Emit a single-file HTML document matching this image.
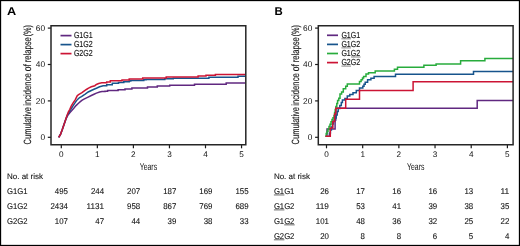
<!DOCTYPE html>
<html><head><meta charset="utf-8"><style>
html,body{margin:0;padding:0;background:#fff;width:520px;height:246px;overflow:hidden}
svg text{font-family:"Liberation Sans", sans-serif;text-rendering:geometricPrecision}
svg{will-change:transform}
text.t{stroke:#111;stroke-width:0.1px}
text.t2{stroke:none}
text.t3{stroke:#222;stroke-width:0.15px}
</style></head><body>
<svg width="520" height="246" viewBox="0 0 520 246" style="display:block;font-family:'Liberation Sans', sans-serif">
<rect x="0" y="0" width="520" height="246" fill="#fff"/>
<rect x="0.5" y="0.5" width="519" height="245" fill="none" stroke="#000" stroke-width="1.3"/>
<text x="6.9" y="14.75" font-size="11.4" textLength="9.2" lengthAdjust="spacingAndGlyphs" font-weight="bold" fill="#000">A</text>
<text x="274.4" y="14.9" font-size="11.4" font-weight="bold" fill="#000">B</text>
<text transform="translate(31.2,144.4) rotate(-90)" x="0" y="0" font-size="10.5" textLength="37.4" lengthAdjust="spacingAndGlyphs" fill="#1a1a1a" class="t3">Cumulative</text>
<text transform="translate(31.2,105.8) rotate(-90)" x="0" y="0" font-size="10.5" textLength="32.6" lengthAdjust="spacingAndGlyphs" fill="#1a1a1a" class="t3">incidence</text>
<text transform="translate(31.2,71.3) rotate(-90)" x="0" y="0" font-size="10.5" textLength="7.1" lengthAdjust="spacingAndGlyphs" fill="#1a1a1a" class="t3">of</text>
<text transform="translate(31.2,62.3) rotate(-90)" x="0" y="0" font-size="10.5" textLength="25.0" lengthAdjust="spacingAndGlyphs" fill="#1a1a1a" class="t3">relapse</text>
<text transform="translate(31.2,36.5) rotate(-90)" x="0" y="0" font-size="10.5" textLength="11.4" lengthAdjust="spacingAndGlyphs" fill="#1a1a1a" class="t3">(%)</text>
<line x1="47.8" y1="137.3" x2="51.0" y2="137.3" stroke="#1a1a1a" stroke-width="1.2"/>
<text class="t2" x="45.0" y="140.20000000000002" font-size="8.3" text-anchor="end" fill="#111">0</text>
<line x1="47.8" y1="100.9" x2="51.0" y2="100.9" stroke="#1a1a1a" stroke-width="1.2"/>
<text class="t2" x="45.0" y="103.80000000000001" font-size="8.3" text-anchor="end" fill="#111">20</text>
<line x1="47.8" y1="64.50000000000001" x2="51.0" y2="64.50000000000001" stroke="#1a1a1a" stroke-width="1.2"/>
<text class="t2" x="45.0" y="67.40000000000002" font-size="8.3" text-anchor="end" fill="#111">40</text>
<line x1="47.8" y1="28.10000000000001" x2="51.0" y2="28.10000000000001" stroke="#1a1a1a" stroke-width="1.2"/>
<text class="t2" x="45.0" y="31.000000000000007" font-size="8.3" text-anchor="end" fill="#111">60</text>
<line x1="61.3" y1="144.8" x2="61.3" y2="148.3" stroke="#1a1a1a" stroke-width="1.2"/>
<text class="t2" x="61.3" y="157.2" font-size="8.2" text-anchor="middle" fill="#111">0</text>
<line x1="97.35" y1="144.8" x2="97.35" y2="148.3" stroke="#1a1a1a" stroke-width="1.2"/>
<text class="t2" x="97.35" y="157.2" font-size="8.2" text-anchor="middle" fill="#111">1</text>
<line x1="133.39999999999998" y1="144.8" x2="133.39999999999998" y2="148.3" stroke="#1a1a1a" stroke-width="1.2"/>
<text class="t2" x="133.39999999999998" y="157.2" font-size="8.2" text-anchor="middle" fill="#111">2</text>
<line x1="169.45" y1="144.8" x2="169.45" y2="148.3" stroke="#1a1a1a" stroke-width="1.2"/>
<text class="t2" x="169.45" y="157.2" font-size="8.2" text-anchor="middle" fill="#111">3</text>
<line x1="205.5" y1="144.8" x2="205.5" y2="148.3" stroke="#1a1a1a" stroke-width="1.2"/>
<text class="t2" x="205.5" y="157.2" font-size="8.2" text-anchor="middle" fill="#111">4</text>
<line x1="241.55" y1="144.8" x2="241.55" y2="148.3" stroke="#1a1a1a" stroke-width="1.2"/>
<text class="t2" x="241.55" y="157.2" font-size="8.2" text-anchor="middle" fill="#111">5</text>
<text class="t2" x="148.4" y="170.2" font-size="10.0" text-anchor="middle" textLength="17.4" lengthAdjust="spacingAndGlyphs" fill="#111">Years</text>
<path d="M58.7,137.4 L60.5,134.4 L62.3,129.5 L63.5,125.9 L64.8,122.2 L66.1,118.7 L67.8,115.3 L69.8,112.7 L71.8,110.6 L73.8,108.3 L76,105.6 L78.5,103.2 L80.3,101.6 L82.2,100.2 L84,99.1 L87.6,97.3 L91.3,95.5 L94,94.2 L96.4,93.1 L99.6,92.1 L102,91.6 H105 V91.2 H107.6 V90.6 H118.1 V89.8 H125 V88.9 H131.9 V87.9 H147.5 V86.9 H157.3 V86.1 H169.7 V85.3 H194.5 V84.2 H226.2 V82.9 H245" fill="none" stroke="#602880" stroke-width="1.5" stroke-linejoin="miter"/>
<path d="M58.7,137.4 L60.5,134.4 L62.3,129.5 L63.5,125.9 L64.8,122.2 L66,118.5 L67.4,115 L69,112.2 L70.7,109.6 L72.5,106.7 L74.3,103.8 L76.5,100.6 L78.5,98.5 L80,97.4 L81.5,96.6 L83.3,95.3 L85.2,94.1 L88.2,92 L91.3,90.5 L94,89.3 L96.4,88.3 L99.6,86.8 L103.2,85.7 H106.7 V84.7 H112.3 V83.3 H118.5 V82.5 H123.8 V81.8 H129.2 V81.0 H130.8 V80.5 H143.8 V79.8 H146.2 V79.4 H164.8 V78.8 H173.3 V78.2 H208.9 V77.3 H238 V76.2 H245" fill="none" stroke="#17548c" stroke-width="1.5" stroke-linejoin="miter"/>
<path d="M58.7,137.4 L60.5,134.4 L62.3,129.5 L63.5,125.9 L64.8,122.2 L66,118.5 L67.2,114.9 L68.4,111.9 L69.7,109.6 L71.2,106.2 L73.1,102.8 L75.3,99.6 L77.2,95.8 L78.6,94.6 L80.3,93.6 L82,92.6 L83.3,91.7 L86.4,89.5 L88.5,88.2 L91.3,86.8 L94.8,85.7 L96.4,84.5 L98.7,83.5 L101.8,82.8 H106.7 V81.9 H110.3 V80.8 H122 V80.0 H129.2 V78.9 H142.7 V78.1 H166.2 V77.0 H198.1 V76.1 H206 V75.3 H215.4 V74.4 H245" fill="none" stroke="#cc1434" stroke-width="1.5" stroke-linejoin="miter"/>
<path d="M51.0,25.8 H245.8 V144.8 H51.0 Z" fill="none" stroke="#262626" stroke-width="1.5"/>
<line x1="60.5" y1="35.6" x2="71.5" y2="35.6" stroke="#602880" stroke-width="1.7"/>
<text class="t3" x="73.9" y="38.0" font-size="8.7" textLength="18.8" lengthAdjust="spacingAndGlyphs" fill="#111">G1G1</text>
<line x1="60.5" y1="44.6" x2="71.5" y2="44.6" stroke="#17548c" stroke-width="1.7"/>
<text class="t3" x="73.9" y="47.0" font-size="8.7" textLength="18.8" lengthAdjust="spacingAndGlyphs" fill="#111">G1G2</text>
<line x1="60.5" y1="53.6" x2="71.5" y2="53.6" stroke="#cc1434" stroke-width="1.7"/>
<text class="t3" x="73.9" y="56.0" font-size="8.7" textLength="18.8" lengthAdjust="spacingAndGlyphs" fill="#111">G2G2</text>
<text transform="translate(298.5,144.4) rotate(-90)" x="0" y="0" font-size="10.5" textLength="37.4" lengthAdjust="spacingAndGlyphs" fill="#1a1a1a" class="t3">Cumulative</text>
<text transform="translate(298.5,105.8) rotate(-90)" x="0" y="0" font-size="10.5" textLength="32.6" lengthAdjust="spacingAndGlyphs" fill="#1a1a1a" class="t3">incidence</text>
<text transform="translate(298.5,71.3) rotate(-90)" x="0" y="0" font-size="10.5" textLength="7.1" lengthAdjust="spacingAndGlyphs" fill="#1a1a1a" class="t3">of</text>
<text transform="translate(298.5,62.3) rotate(-90)" x="0" y="0" font-size="10.5" textLength="25.0" lengthAdjust="spacingAndGlyphs" fill="#1a1a1a" class="t3">relapse</text>
<text transform="translate(298.5,36.5) rotate(-90)" x="0" y="0" font-size="10.5" textLength="11.4" lengthAdjust="spacingAndGlyphs" fill="#1a1a1a" class="t3">(%)</text>
<line x1="315.1" y1="137.3" x2="318.3" y2="137.3" stroke="#1a1a1a" stroke-width="1.2"/>
<text class="t2" x="312.3" y="140.20000000000002" font-size="8.3" text-anchor="end" fill="#111">0</text>
<line x1="315.1" y1="100.9" x2="318.3" y2="100.9" stroke="#1a1a1a" stroke-width="1.2"/>
<text class="t2" x="312.3" y="103.80000000000001" font-size="8.3" text-anchor="end" fill="#111">20</text>
<line x1="315.1" y1="64.50000000000001" x2="318.3" y2="64.50000000000001" stroke="#1a1a1a" stroke-width="1.2"/>
<text class="t2" x="312.3" y="67.40000000000002" font-size="8.3" text-anchor="end" fill="#111">40</text>
<line x1="315.1" y1="28.10000000000001" x2="318.3" y2="28.10000000000001" stroke="#1a1a1a" stroke-width="1.2"/>
<text class="t2" x="312.3" y="31.000000000000007" font-size="8.3" text-anchor="end" fill="#111">60</text>
<line x1="326.5" y1="144.8" x2="326.5" y2="148.3" stroke="#1a1a1a" stroke-width="1.2"/>
<text class="t2" x="326.5" y="157.2" font-size="8.2" text-anchor="middle" fill="#111">0</text>
<line x1="362.68" y1="144.8" x2="362.68" y2="148.3" stroke="#1a1a1a" stroke-width="1.2"/>
<text class="t2" x="362.68" y="157.2" font-size="8.2" text-anchor="middle" fill="#111">1</text>
<line x1="398.86" y1="144.8" x2="398.86" y2="148.3" stroke="#1a1a1a" stroke-width="1.2"/>
<text class="t2" x="398.86" y="157.2" font-size="8.2" text-anchor="middle" fill="#111">2</text>
<line x1="435.03999999999996" y1="144.8" x2="435.03999999999996" y2="148.3" stroke="#1a1a1a" stroke-width="1.2"/>
<text class="t2" x="435.03999999999996" y="157.2" font-size="8.2" text-anchor="middle" fill="#111">3</text>
<line x1="471.22" y1="144.8" x2="471.22" y2="148.3" stroke="#1a1a1a" stroke-width="1.2"/>
<text class="t2" x="471.22" y="157.2" font-size="8.2" text-anchor="middle" fill="#111">4</text>
<line x1="507.4" y1="144.8" x2="507.4" y2="148.3" stroke="#1a1a1a" stroke-width="1.2"/>
<text class="t2" x="507.4" y="157.2" font-size="8.2" text-anchor="middle" fill="#111">5</text>
<text class="t2" x="415.70000000000005" y="170.2" font-size="10.0" text-anchor="middle" textLength="17.4" lengthAdjust="spacingAndGlyphs" fill="#111">Years</text>
<path d="M325.5,136.3 H327 V128.9 H335.1 V120 H335.8 V108.3 H477.2 V100.4 H513" fill="none" stroke="#602880" stroke-width="1.5" stroke-linejoin="miter"/>
<path d="M328.4,136 H329.4 V133 H330.4 V130 H331.4 V127 H332.4 V124 H333.4 V121 H334.6 V118 H336.2 V115 H337.2 V111.5 H338.2 V108.6 H339.8 V105.5 H341.3 V102.5 H342.4 V100.1 H344.9 V98.5 H347.3 V96.1 H349.8 V94.5 H353 V92.8 H356.3 V90.4 H359.5 V88 H362.8 V86.3 H364 V84.3 H365.2 V82.3 H367.6 V79.8 H370.9 V78.2 H374.1 V76.5 H395.5 V74.2 H473.5 V71.4 H513" fill="none" stroke="#17548c" stroke-width="1.5" stroke-linejoin="miter"/>
<path d="M325.4,136.3 H326.2 V133.5 H327.1 V131.2 H328 V129 H329 V126.6 H330 V124.2 H331 V121.8 H332 V119.6 H333 V117.8 H334 V115.6 H334.6 V112.6 H335.2 V109.4 H335.9 V106.4 H336.8 V103.6 H337.6 V100.6 H338.8 V98.2 H340 V95.6 H340 V94 H341.6 V92 H343.3 V88.8 H345.7 V86.3 H347.3 V83.9 H359.5 V81.5 H361.1 V79.8 H362.5 V78 H363.6 V76.6 H366 V74.1 H368.5 V72.8 H375.2 V70.9 H394.4 V69.3 H397.5 V67.3 H423.9 V65.2 H436.1 V63.9 H460.6 V60.8 H484.9 V58.5 H513" fill="none" stroke="#28ac3c" stroke-width="1.5" stroke-linejoin="miter"/>
<path d="M325.5,136.3 H330.3 V128 H332.8 V121.5 H334.6 V114 H335.8 V108.3 H345.7 V99.3 H359.5 V90.5 H413.1 V81.7 H513" fill="none" stroke="#cc1434" stroke-width="1.5" stroke-linejoin="miter"/>
<path d="M318.3,25.8 H513.1 V144.8 H318.3 Z" fill="none" stroke="#262626" stroke-width="1.5"/>
<line x1="327.0" y1="35.3" x2="338.0" y2="35.3" stroke="#602880" stroke-width="1.7"/>
<text class="t3" x="341.4" y="37.699999999999996" font-size="8.7" textLength="18.8" lengthAdjust="spacingAndGlyphs" fill="#111">G1G1</text>
<line x1="341.4" y1="38.8" x2="351.0" y2="38.8" stroke="#555" stroke-width="0.7"/>
<line x1="327.0" y1="44.4" x2="338.0" y2="44.4" stroke="#17548c" stroke-width="1.7"/>
<text class="t3" x="341.4" y="46.8" font-size="8.7" textLength="18.8" lengthAdjust="spacingAndGlyphs" fill="#111">G1G2</text>
<line x1="341.4" y1="47.9" x2="351.0" y2="47.9" stroke="#555" stroke-width="0.7"/>
<line x1="327.0" y1="53.5" x2="338.0" y2="53.5" stroke="#28ac3c" stroke-width="1.7"/>
<text class="t3" x="341.4" y="55.9" font-size="8.7" textLength="18.8" lengthAdjust="spacingAndGlyphs" fill="#111">G1G2</text>
<line x1="351.0" y1="57.0" x2="360.6" y2="57.0" stroke="#555" stroke-width="0.7"/>
<line x1="327.0" y1="62.599999999999994" x2="338.0" y2="62.599999999999994" stroke="#cc1434" stroke-width="1.7"/>
<text class="t3" x="341.4" y="65.0" font-size="8.7" textLength="18.8" lengthAdjust="spacingAndGlyphs" fill="#111">G2G2</text>
<line x1="341.4" y1="66.1" x2="351.0" y2="66.1" stroke="#555" stroke-width="0.7"/>
<text class="t" x="7.0" y="179.1" font-size="8.0" textLength="36" lengthAdjust="spacingAndGlyphs" fill="#111">No. at risk</text>
<text class="t" x="7.0" y="194.04999999999998" font-size="8.4" textLength="20.5" lengthAdjust="spacingAndGlyphs" fill="#111">G1G1</text>
<text class="t" x="67.9" y="194.04999999999998" font-size="8.3" text-anchor="end" textLength="13.11" lengthAdjust="spacingAndGlyphs" fill="#111">495</text>
<text class="t" x="104.04" y="194.04999999999998" font-size="8.3" text-anchor="end" textLength="13.11" lengthAdjust="spacingAndGlyphs" fill="#111">244</text>
<text class="t" x="140.18" y="194.04999999999998" font-size="8.3" text-anchor="end" textLength="13.11" lengthAdjust="spacingAndGlyphs" fill="#111">207</text>
<text class="t" x="176.32" y="194.04999999999998" font-size="8.3" text-anchor="end" textLength="13.11" lengthAdjust="spacingAndGlyphs" fill="#111">187</text>
<text class="t" x="212.46" y="194.04999999999998" font-size="8.3" text-anchor="end" textLength="13.11" lengthAdjust="spacingAndGlyphs" fill="#111">169</text>
<text class="t" x="248.6" y="194.04999999999998" font-size="8.3" text-anchor="end" textLength="13.11" lengthAdjust="spacingAndGlyphs" fill="#111">155</text>
<text class="t" x="7.0" y="209.0" font-size="8.4" textLength="20.5" lengthAdjust="spacingAndGlyphs" fill="#111">G1G2</text>
<text class="t" x="67.9" y="209.0" font-size="8.3" text-anchor="end" textLength="17.48" lengthAdjust="spacingAndGlyphs" fill="#111">2434</text>
<text class="t" x="104.04" y="209.0" font-size="8.3" text-anchor="end" textLength="17.48" lengthAdjust="spacingAndGlyphs" fill="#111">1131</text>
<text class="t" x="140.18" y="209.0" font-size="8.3" text-anchor="end" textLength="13.11" lengthAdjust="spacingAndGlyphs" fill="#111">958</text>
<text class="t" x="176.32" y="209.0" font-size="8.3" text-anchor="end" textLength="13.11" lengthAdjust="spacingAndGlyphs" fill="#111">867</text>
<text class="t" x="212.46" y="209.0" font-size="8.3" text-anchor="end" textLength="13.11" lengthAdjust="spacingAndGlyphs" fill="#111">769</text>
<text class="t" x="248.6" y="209.0" font-size="8.3" text-anchor="end" textLength="13.11" lengthAdjust="spacingAndGlyphs" fill="#111">689</text>
<text class="t" x="7.0" y="223.95" font-size="8.4" textLength="20.5" lengthAdjust="spacingAndGlyphs" fill="#111">G2G2</text>
<text class="t" x="67.9" y="223.95" font-size="8.3" text-anchor="end" textLength="13.11" lengthAdjust="spacingAndGlyphs" fill="#111">107</text>
<text class="t" x="104.04" y="223.95" font-size="8.3" text-anchor="end" textLength="8.74" lengthAdjust="spacingAndGlyphs" fill="#111">47</text>
<text class="t" x="140.18" y="223.95" font-size="8.3" text-anchor="end" textLength="8.74" lengthAdjust="spacingAndGlyphs" fill="#111">44</text>
<text class="t" x="176.32" y="223.95" font-size="8.3" text-anchor="end" textLength="8.74" lengthAdjust="spacingAndGlyphs" fill="#111">39</text>
<text class="t" x="212.46" y="223.95" font-size="8.3" text-anchor="end" textLength="8.74" lengthAdjust="spacingAndGlyphs" fill="#111">38</text>
<text class="t" x="248.6" y="223.95" font-size="8.3" text-anchor="end" textLength="8.74" lengthAdjust="spacingAndGlyphs" fill="#111">33</text>
<text class="t" x="273.9" y="179.1" font-size="8.0" textLength="36" lengthAdjust="spacingAndGlyphs" fill="#111">No. at risk</text>
<text class="t" x="273.9" y="194.04999999999998" font-size="8.4" textLength="20.5" lengthAdjust="spacingAndGlyphs" fill="#111">G1G1</text>
<line x1="273.9" y1="194.95" x2="284.4" y2="194.95" stroke="#444" stroke-width="0.8"/>
<text class="t" x="328.9" y="194.04999999999998" font-size="8.3" text-anchor="end" textLength="8.74" lengthAdjust="spacingAndGlyphs" fill="#111">26</text>
<text class="t" x="364.98" y="194.04999999999998" font-size="8.3" text-anchor="end" textLength="8.74" lengthAdjust="spacingAndGlyphs" fill="#111">17</text>
<text class="t" x="401.06" y="194.04999999999998" font-size="8.3" text-anchor="end" textLength="8.74" lengthAdjust="spacingAndGlyphs" fill="#111">16</text>
<text class="t" x="437.14" y="194.04999999999998" font-size="8.3" text-anchor="end" textLength="8.74" lengthAdjust="spacingAndGlyphs" fill="#111">16</text>
<text class="t" x="473.22" y="194.04999999999998" font-size="8.3" text-anchor="end" textLength="8.74" lengthAdjust="spacingAndGlyphs" fill="#111">13</text>
<text class="t" x="509.3" y="194.04999999999998" font-size="8.3" text-anchor="end" textLength="8.74" lengthAdjust="spacingAndGlyphs" fill="#111">11</text>
<text class="t" x="273.9" y="209.0" font-size="8.4" textLength="20.5" lengthAdjust="spacingAndGlyphs" fill="#111">G1G2</text>
<line x1="273.9" y1="209.9" x2="284.4" y2="209.9" stroke="#444" stroke-width="0.8"/>
<text class="t" x="328.9" y="209.0" font-size="8.3" text-anchor="end" textLength="13.11" lengthAdjust="spacingAndGlyphs" fill="#111">119</text>
<text class="t" x="364.98" y="209.0" font-size="8.3" text-anchor="end" textLength="8.74" lengthAdjust="spacingAndGlyphs" fill="#111">53</text>
<text class="t" x="401.06" y="209.0" font-size="8.3" text-anchor="end" textLength="8.74" lengthAdjust="spacingAndGlyphs" fill="#111">41</text>
<text class="t" x="437.14" y="209.0" font-size="8.3" text-anchor="end" textLength="8.74" lengthAdjust="spacingAndGlyphs" fill="#111">39</text>
<text class="t" x="473.22" y="209.0" font-size="8.3" text-anchor="end" textLength="8.74" lengthAdjust="spacingAndGlyphs" fill="#111">38</text>
<text class="t" x="509.3" y="209.0" font-size="8.3" text-anchor="end" textLength="8.74" lengthAdjust="spacingAndGlyphs" fill="#111">35</text>
<text class="t" x="273.9" y="223.95" font-size="8.4" textLength="20.5" lengthAdjust="spacingAndGlyphs" fill="#111">G1G2</text>
<line x1="284.2" y1="224.85" x2="294.7" y2="224.85" stroke="#444" stroke-width="0.8"/>
<text class="t" x="328.9" y="223.95" font-size="8.3" text-anchor="end" textLength="13.11" lengthAdjust="spacingAndGlyphs" fill="#111">101</text>
<text class="t" x="364.98" y="223.95" font-size="8.3" text-anchor="end" textLength="8.74" lengthAdjust="spacingAndGlyphs" fill="#111">48</text>
<text class="t" x="401.06" y="223.95" font-size="8.3" text-anchor="end" textLength="8.74" lengthAdjust="spacingAndGlyphs" fill="#111">36</text>
<text class="t" x="437.14" y="223.95" font-size="8.3" text-anchor="end" textLength="8.74" lengthAdjust="spacingAndGlyphs" fill="#111">32</text>
<text class="t" x="473.22" y="223.95" font-size="8.3" text-anchor="end" textLength="8.74" lengthAdjust="spacingAndGlyphs" fill="#111">25</text>
<text class="t" x="509.3" y="223.95" font-size="8.3" text-anchor="end" textLength="8.74" lengthAdjust="spacingAndGlyphs" fill="#111">22</text>
<text class="t" x="273.9" y="238.89999999999998" font-size="8.4" textLength="20.5" lengthAdjust="spacingAndGlyphs" fill="#111">G2G2</text>
<line x1="273.9" y1="239.79999999999998" x2="284.4" y2="239.79999999999998" stroke="#444" stroke-width="0.8"/>
<text class="t" x="328.9" y="238.89999999999998" font-size="8.3" text-anchor="end" textLength="8.74" lengthAdjust="spacingAndGlyphs" fill="#111">20</text>
<text class="t" x="364.98" y="238.89999999999998" font-size="8.3" text-anchor="end" textLength="4.37" lengthAdjust="spacingAndGlyphs" fill="#111">8</text>
<text class="t" x="401.06" y="238.89999999999998" font-size="8.3" text-anchor="end" textLength="4.37" lengthAdjust="spacingAndGlyphs" fill="#111">8</text>
<text class="t" x="437.14" y="238.89999999999998" font-size="8.3" text-anchor="end" textLength="4.37" lengthAdjust="spacingAndGlyphs" fill="#111">6</text>
<text class="t" x="473.22" y="238.89999999999998" font-size="8.3" text-anchor="end" textLength="4.37" lengthAdjust="spacingAndGlyphs" fill="#111">5</text>
<text class="t" x="509.3" y="238.89999999999998" font-size="8.3" text-anchor="end" textLength="4.37" lengthAdjust="spacingAndGlyphs" fill="#111">4</text>
</svg>
</body></html>
